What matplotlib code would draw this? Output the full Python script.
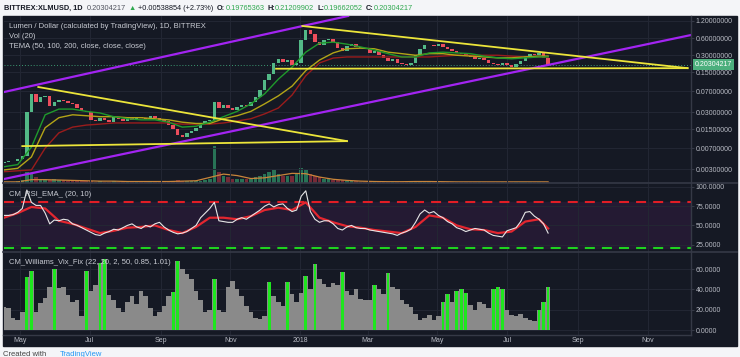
import numpy as np
import matplotlib
matplotlib.use('Agg')
from matplotlib import pyplot as plt
from matplotlib.lines import Line2D
from matplotlib.patches import Rectangle
from matplotlib.ticker import NullLocator

plt.rcParams['font.family'] = ['Liberation Sans', 'DejaVu Sans']

# ---- data: one candle every 4 days, 2017-04-17 .. 2018-08-07 ----
start = np.datetime64('2017-04-17')
step_days = 4
open_first = 0.0039
closes = [0.0040, 0.0041, 0.0042, 0.0046, 0.0050, 0.030, 0.062, 0.045, 0.055, 0.058,
          0.038, 0.046, 0.050, 0.047, 0.044, 0.042, 0.036, 0.032, 0.030, 0.022,
          0.021, 0.024, 0.022, 0.020, 0.025, 0.023, 0.021, 0.024, 0.022, 0.025,
          0.024, 0.023, 0.026, 0.024, 0.022, 0.021, 0.018, 0.015, 0.012, 0.011,
          0.013, 0.014, 0.016, 0.019, 0.021, 0.022, 0.045, 0.036, 0.040, 0.035,
          0.033, 0.037, 0.040, 0.038, 0.045, 0.055, 0.075, 0.11, 0.14, 0.22,
          0.26, 0.23, 0.25, 0.20, 0.22, 0.55, 0.85, 0.70, 0.52, 0.45,
          0.55, 0.58, 0.52, 0.40, 0.36, 0.44, 0.47, 0.42, 0.40, 0.38,
          0.33, 0.36, 0.30, 0.27, 0.24, 0.26, 0.22, 0.21, 0.20, 0.22,
          0.30, 0.38, 0.45, 0.46, 0.43, 0.47, 0.42, 0.38, 0.36, 0.33,
          0.31, 0.30, 0.28, 0.26, 0.27, 0.25, 0.22, 0.21, 0.20, 0.22,
          0.20, 0.19, 0.21, 0.24, 0.29, 0.31, 0.30, 0.33, 0.27, 0.20304217]
volume = [0.3, 0.3, 0.4, 0.5, 0.8, 3.0, 2.5, 1.5, 1.2, 1.0,
          0.9, 1.0, 0.8, 0.7, 0.6, 0.6, 0.5, 0.5, 0.6, 0.5,
          0.4, 0.5, 0.4, 0.4, 0.5, 0.4, 0.4, 0.4, 0.4, 0.4,
          0.4, 0.4, 0.4, 0.4, 0.4, 0.4, 0.5, 0.6, 0.7, 0.6,
          0.5, 0.5, 0.5, 0.6, 0.7, 1.0, 10.0, 3.0, 2.0, 1.5,
          1.2, 1.0, 1.0, 1.0, 1.2, 1.5, 2.0, 2.5, 3.0, 3.5,
          2.5, 2.0, 2.0, 2.0, 2.5, 4.0, 3.5, 2.5, 2.0, 1.5,
          1.2, 1.0, 0.9, 0.8, 0.7, 0.6, 0.5, 0.5, 0.4, 0.4,
          0.4, 0.35, 0.35, 0.35, 0.35, 0.35, 0.35, 0.35, 0.35, 0.35,
          0.4, 0.4, 0.45, 0.4, 0.35, 0.35, 0.3, 0.3, 0.3, 0.3,
          0.3, 0.3, 0.3, 0.3, 0.3, 0.3, 0.3, 0.3, 0.3, 0.3,
          0.3, 0.3, 0.3, 0.3, 0.3, 0.3, 0.3, 0.3, 0.3, 0.3]
rsi = [63, 63, 64, 67, 72, 96, 80, 76, 76, 66,
       52, 57, 56, 58, 57, 52, 50, 47, 44, 41,
       38, 37, 40, 42, 45, 44, 47, 50, 52, 48,
       46, 50, 48, 52, 54, 48, 44, 41, 39, 40,
       42, 46, 50, 60, 66, 72, 80, 56, 55, 54,
       54, 58, 60, 58, 62, 66, 70, 75, 78, 74,
       77, 78, 72, 68, 70, 88, 95, 68, 58, 54,
       56, 56, 52, 46, 44, 48, 50, 47, 46, 46,
       44, 43, 42, 41, 40, 39, 37, 40, 42, 45,
       54, 65, 70, 66, 68, 63, 60, 55, 52, 47,
       45, 42, 44, 46, 45, 44, 40, 37, 36, 35,
       43, 45, 47, 55, 67, 68, 62, 58, 52, 40]
vix = [23, 22, 12, 10, 18, 52, 58, 18, 27, 32,
       42, 60, 41, 42, 34, 28, 30, 14, 58, 38,
       44, 66, 70, 34, 30, 22, 18, 28, 33, 26,
       38, 33, 22, 14, 18, 24, 33, 37, 68, 60,
       55, 50, 38, 30, 18, 20, 50, 20, 18, 42,
       48, 40, 33, 24, 18, 12, 11, 14, 47, 33,
       28, 24, 47, 35, 28, 36, 53, 40, 65, 50,
       45, 42, 46, 44, 57, 38, 34, 40, 31, 30,
       30, 44, 40, 35, 56, 42, 40, 30, 26, 23,
       16, 10, 12, 15, 10, 14, 28, 35, 28, 38,
       40, 36, 25, 20, 28, 26, 22, 40, 42, 40,
       20, 15, 14, 16, 12, 10, 9, 20, 28, 42]
vix_green = [5, 6, 11, 18, 21, 22, 37, 38, 46, 58, 62, 66, 68, 74, 81, 84,
             96, 97, 99, 100, 101, 107, 108, 109, 117, 118, 119]

# smooth lines, read at every third candle
line_idx = list(range(0, 120, 3)) + [119]
tema_fast = [0.0033, 0.0036, 0.0073, 0.027, 0.034, 0.034, 0.031, 0.029, 0.025, 0.023,
             0.022, 0.022, 0.020, 0.0164, 0.017, 0.020, 0.025, 0.031, 0.042, 0.063,
             0.114, 0.186, 0.34, 0.49, 0.51, 0.47, 0.42, 0.37, 0.32, 0.28,
             0.28, 0.33, 0.34, 0.33, 0.32, 0.29, 0.27, 0.26, 0.27, 0.28, 0.28]
tema_mid = [0.0029, 0.0031, 0.0049, 0.016, 0.024, 0.027, 0.026, 0.025, 0.025, 0.024,
            0.024, 0.023, 0.022, 0.020, 0.019, 0.019, 0.023, 0.026, 0.031, 0.042,
            0.058, 0.086, 0.161, 0.247, 0.33, 0.39, 0.40, 0.39, 0.34, 0.32,
            0.30, 0.32, 0.32, 0.30, 0.29, 0.28, 0.27, 0.27, 0.28, 0.29, 0.29]
tema_slow = [0.0027, 0.0028, 0.0029, 0.007, 0.013, 0.0164, 0.0178, 0.0185, 0.0194, 0.0194,
             0.0194, 0.0194, 0.0194, 0.0185, 0.0185, 0.0185, 0.0194, 0.021, 0.023, 0.028,
             0.0355, 0.060, 0.131, 0.220, 0.268, 0.28, 0.28, 0.28, 0.28, 0.28,
             0.28, 0.28, 0.29, 0.30, 0.30, 0.30, 0.30, 0.29, 0.28, 0.28, 0.28]
vol_ma = [0.3, 0.3, 0.9, 0.9, 0.8, 0.7, 0.6, 0.5, 0.5, 0.4,
          0.4, 0.4, 0.4, 0.5, 0.6, 1.5, 2.4, 2.0, 1.2, 1.4,
          2.0, 2.6, 2.5, 1.6, 1.0, 0.7, 0.5, 0.4, 0.35, 0.35,
          0.4, 0.4, 0.35, 0.3, 0.3, 0.3, 0.3, 0.3, 0.3, 0.3, 0.3]
rsi_ema = [60, 66, 74, 72, 56, 52, 46, 40, 43, 47,
           48, 50, 44, 40, 48, 60, 60, 58, 62, 70,
           73, 70, 80, 60, 54, 49, 47, 44, 42, 40,
           48, 63, 60, 50, 45, 44, 40, 42, 55, 58, 46]

# hand-drawn trendlines: dates, prices
purple_upper = (['2017-04-17', '2018-02-12'], [0.0678, 1.47])
purple_lower = (['2017-04-17', '2018-12-09'], [0.00201, 0.68])
yellow_lines = [(['2017-05-17', '2018-02-11'], [0.083, 0.0093]),
                (['2017-05-03', '2018-02-11'], [0.0076, 0.0093]),
                (['2018-01-03', '2018-12-06'], [0.98, 0.178]),
                (['2017-12-11', '2018-12-06'], [0.174, 0.178])]

month_ticks = ['2017-05-01', '2017-07-01', '2017-09-01', '2017-11-01', '2018-01-01',
               '2018-03-01', '2018-05-01', '2018-07-01', '2018-09-01', '2018-11-01']
month_labels = ['May', 'Jul', 'Sep', 'Nov', '2018', 'Mar', 'May', 'Jul', 'Sep', 'Nov']
price_ticks = [1.2, 0.6, 0.3, 0.15, 0.07, 0.03, 0.015, 0.007, 0.003]
rsi_ticks = [25, 50, 75, 100]
vix_ticks = [0, 20, 40, 60]

# ---- styling ----
BG = '#151924'
GRID = '#232734'
SEP = '#353946'
TXT = '#b8bbc4'
W, H = 740, 357

dates = start + np.arange(len(closes)) * step_days
line_dates = dates[line_idx]
closes_a = np.array(closes)
opens = np.concatenate([[open_first], closes_a[:-1]])
up = closes_a >= opens
xlim = (np.datetime64('2017-04-17'), np.datetime64('2018-12-09'))
mticks = np.array(month_ticks, dtype='datetime64[D]')


def fx(x):
    return x / W


def fy(y):
    return 1 - y / H


def pane(top, bottom, **kw):
    return fig.add_axes([fx(4), fy(bottom), fx(691) - fx(4), (bottom - top) / H], **kw)


def style(ax, ticks, labels):
    ax.set_xlim(*xlim)
    ax.set_xticks(mticks)
    ax.set_yticks(ticks)
    ax.set_yticklabels(labels)
    ax.yaxis.set_minor_locator(NullLocator())
    ax.yaxis.tick_right()
    ax.tick_params(axis='y', length=2, pad=1.5, colors=SEP, labelcolor=TXT, labelsize=5)
    ax.tick_params(axis='x', length=0, labelbottom=False)
    ax.grid(True, color=GRID, lw=0.7)
    ax.set_axisbelow(True)
    for s in ax.spines.values():
        s.set_visible(False)


fig = plt.figure(figsize=(W / 100, H / 100), dpi=100, facecolor='#f4f5f8')
fig.add_artist(Rectangle((fx(3), fy(346)), fx(737) - fx(3), (346 - 16) / H,
                         transform=fig.transFigure, color=BG, zorder=-5))

# volume overlay (behind price)
axv = pane(16, 183)
axv.set_facecolor(BG)
axv.bar(dates, volume, width=3.2, color=np.where(up, '#2e8a63', '#8f2f3d'), lw=0, alpha=0.8)
axv.plot(line_dates, vol_ma, color='#c9853a', lw=0.9)
axv.set_xlim(*xlim)
axv.set_ylim(0, 45)
axv.axis('off')

# price pane
ax = pane(16, 183)
ax.patch.set_visible(False)
ax.set_yscale('log')
ax.set_ylim(0.00171, 1.468)
style(ax, price_ticks, [f'{v:.8f}' for v in price_ticks])
ax.bar(dates, np.abs(closes_a - opens), bottom=np.minimum(opens, closes_a), width=3.0,
       color=np.where(up, '#53b987', '#eb4d5c'), lw=0, zorder=3)
ax.plot(line_dates, tema_slow, color='#9a1c1c', lw=1.0, zorder=4)
ax.plot(line_dates, tema_mid, color='#b3a417', lw=1.0, zorder=4)
ax.plot(line_dates, tema_fast, color='#1f9a2c', lw=1.0, zorder=4)
for d, p in [purple_upper, purple_lower]:
    ax.plot(np.array(d, dtype='datetime64[D]'), p, color='#a324f2', lw=1.6, zorder=5)
for d, p in yellow_lines:
    ax.plot(np.array(d, dtype='datetime64[D]'), p, color='#ece53a', lw=1.3, zorder=5)
ax.axhline(closes[-1], color='#3c9a72', lw=0.7, ls=(0, (1, 2)), zorder=2)
ax.text(1 + 4 / 687, closes[-1], f'{closes[-1]:.8f}', transform=ax.get_yaxis_transform(),
        ha='left', va='center', fontsize=5, color='white', clip_on=False, zorder=6,
        bbox=dict(boxstyle='square,pad=0.3', fc='#4caf7d', ec='none'))

# RSI pane
ax2 = pane(184, 252)
ax2.set_facecolor(BG)
ax2.set_ylim(15.4, 103.85)
style(ax2, rsi_ticks, [f'{v:.4f}' for v in rsi_ticks])
ax2.axhspan(20, 80, color='#241a33', zorder=0)
ax2.axhline(80, color='#e11d25', lw=1.5, dashes=(4.8, 3.4))
ax2.axhline(20, color='#1fd21f', lw=1.5, dashes=(4.8, 3.4))
ax2.plot(line_dates, rsi_ema, color='#e3262f', lw=1.6)
ax2.plot(dates, rsi, color='#e6e6e6', lw=0.8)

# Williams Vix Fix pane: gray histogram, green highlights drawn narrower on top
ax3 = pane(252, 335)
ax3.set_facecolor(BG)
ax3.set_ylim(-4.9, 76.8)
style(ax3, vix_ticks, [f'{v:.4f}' for v in vix_ticks])
vix_a = np.array(vix)
ax3.bar(dates, vix_a, width=4.0, color='#8a8a8a', lw=0)
ax3.bar(dates[vix_green], vix_a[vix_green], width=2.4, color='#1ee61e', lw=0)
ax3.set_xticklabels(month_labels)
ax3.tick_params(axis='x', labelbottom=True, labelsize=5, labelcolor=TXT, pad=1.5)

# pane separators
for y in (183.5, 252):
    fig.add_artist(Line2D([fx(3), fx(737)], [fy(y), fy(y)], color=SEP, lw=1.2))
fig.add_artist(Line2D([fx(3), fx(691)], [fy(335), fy(335)], color=SEP, lw=1))
fig.add_artist(Line2D([fx(691), fx(691)], [fy(16), fy(335)], color=SEP, lw=1))

# legends
leg = dict(fontsize=5.5, color='#c8cbd3', va='center')
fig.text(fx(9), fy(26), 'Lumen / Dollar (calculated by TradingView), 1D, BITTREX', **leg)
fig.text(fx(9), fy(36), 'Vol (20)', **leg)
fig.text(fx(9), fy(47), 'TEMA (50, 100, 200, close, close, close)', **leg)
fig.text(fx(9), fy(195), 'CM_RSI_EMA_ (20, 10)', **leg)
fig.text(fx(9), fy(263), 'CM_Williams_Vix_Fix (22, 20, 2, 50, 0.85, 1.01)', **leg)

# header, laid out piece by piece
hdr = [('BITTREX:XLMUSD, 1D', '#131722', 'bold', 4),
       ('0.20304217', '#50535e', 'normal', 3),
       ('\u25b2', '#2fa84f', 'normal', 2),
       ('+0.00538854 (+2.73%)', '#131722', 'normal', 4),
       ('O:', '#131722', 'bold', 0), ('0.19765363', '#2fa84f', 'normal', 3),
       ('H:', '#131722', 'bold', 0), ('0.21209902', '#2fa84f', 'normal', 3),
       ('L:', '#131722', 'bold', 0), ('0.19662052', '#2fa84f', 'normal', 3),
       ('C:', '#131722', 'bold', 0), ('0.20304217', '#2fa84f', 'normal', 3)]
renderer = fig.canvas.get_renderer()
x = 4
for s, c, w, gap in hdr:
    t = fig.text(fx(x), fy(8), s, fontsize=5.35, color=c, fontweight=w, va='center')
    x += t.get_window_extent(renderer).width + gap

fig.text(fx(3), fy(355), 'Created with', fontsize=5.5, color='#444', va='center')
fig.text(fx(60), fy(355), 'TradingView', fontsize=5.5, color='#2196f3', va='center')

fig.savefig('out.png', dpi=100, facecolor=fig.get_facecolor())
